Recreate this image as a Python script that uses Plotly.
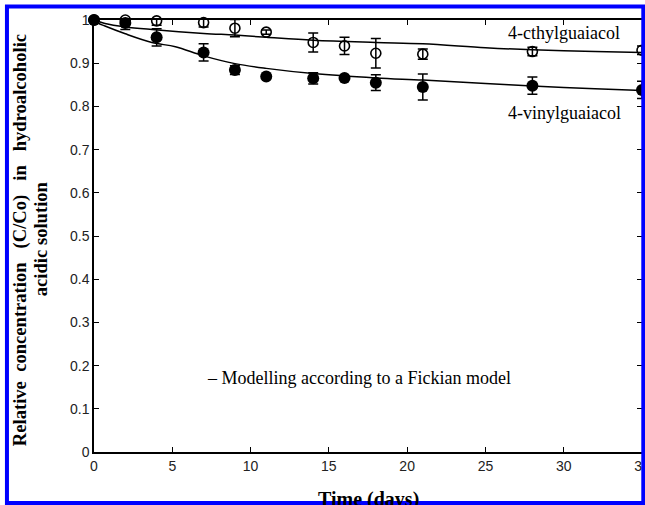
import plotly.graph_objects as go

# ---- data ----
days = [0, 2, 4, 7, 9, 11, 14, 16, 18, 21, 28, 35]
vinyl = [1.0, 0.993, 0.960, 0.925, 0.884, 0.869, 0.865, 0.866, 0.855, 0.845, 0.848, 0.838]
vinyl_err = [0, 0.015, 0.02, 0.02, 0.01, 0, 0.013, 0, 0.018, 0.03, 0.02, 0.02]
ethyl = [1.0, 1.0, 0.998, 0.994, 0.981, 0.972, 0.948, 0.940, 0.923, 0.921, 0.927, 0.930]
ethyl_err = [0, 0.005, 0.01, 0.01, 0.02, 0.005, 0.022, 0.02, 0.034, 0.012, 0.01, 0.01]

vinyl_model_x = [0, 0.25, 0.7, 2, 3.7, 5.2, 7, 9, 11, 14, 18, 21, 25, 28, 32, 35]
vinyl_model_y = [1.0, 0.993, 0.986, 0.968, 0.948, 0.938, 0.917, 0.899, 0.888, 0.876, 0.866, 0.861, 0.853, 0.847, 0.841, 0.837]
ethyl_model_x = [0, 0.7, 2, 3.7, 7, 9, 11, 14, 18, 21, 25, 28, 32, 35]
ethyl_model_y = [1.0, 0.992, 0.984, 0.978, 0.969, 0.965, 0.960, 0.953, 0.948, 0.945, 0.936, 0.931, 0.927, 0.925]

x_ticks = [0, 5, 10, 15, 20, 25, 30, 35]
x_tick_labels = ["0", "5", "10", "15", "20", "25", "30", "35"]
y_ticks = [0, 0.1, 0.2, 0.3, 0.4, 0.5, 0.6, 0.7, 0.8, 0.9, 1.0]
y_tick_labels = ["0", "0.1", "0.2", "0.3", "0.4", "0.5", "0.6", "0.7", "0.8", "0.9", "1"]

serif = "Liberation Serif, Times New Roman, serif"
sans = "Liberation Sans, Arial, sans-serif"

fig = go.Figure()

fig.add_trace(go.Scatter(x=ethyl_model_x, y=ethyl_model_y, mode="lines",
                         line=dict(color="black", width=1.5, shape="spline"),
                         hoverinfo="skip", cliponaxis=False))
fig.add_trace(go.Scatter(x=vinyl_model_x, y=vinyl_model_y, mode="lines",
                         line=dict(color="black", width=1.5, shape="spline"),
                         hoverinfo="skip", cliponaxis=False))

fig.add_trace(go.Scatter(
    x=days, y=ethyl, mode="markers", cliponaxis=False,
    marker=dict(symbol="circle-open", size=10, color="black", line=dict(width=1.6, color="black")),
    error_y=dict(type="data", array=ethyl_err, visible=True, color="black", thickness=1.5, width=5),
))
fig.add_trace(go.Scatter(
    x=days, y=vinyl, mode="markers", cliponaxis=False,
    marker=dict(symbol="circle", size=12, color="black"),
    error_y=dict(type="data", array=vinyl_err, visible=True, color="black", thickness=1.5, width=5),
))

W, H = 645, 505
L, R, T, B = 94, 3.3, 19.5, 53
pw = W - L - R
ph = H - T - B

def px(xp):
    return (xp - L) / pw

def py(yp):
    return (H - B - yp) / ph

fig.update_layout(
    width=W, height=H, autosize=False,
    margin=dict(l=L, r=R, t=T, b=B, pad=0, autoexpand=False),
    paper_bgcolor="white", plot_bgcolor="white",
    showlegend=False,
    xaxis=dict(range=[0, 35], tickvals=x_ticks, ticktext=x_tick_labels,
               ticks="inside", ticklen=5, tickwidth=1.2, tickcolor="black",
               showline=True, linecolor="black", linewidth=1.8, mirror="ticks",
               showgrid=False, zeroline=False, ticklabeloverflow="allow", automargin=False,
               tickfont=dict(family=sans, size=14, color="#222")),
    yaxis=dict(range=[0, 1], tickvals=y_ticks, ticktext=y_tick_labels,
               ticks="inside", ticklen=5, tickwidth=1.2, tickcolor="black",
               showline=True, linecolor="black", linewidth=1.5, mirror="ticks",
               showgrid=False, zeroline=False, ticklabeloverflow="allow", automargin=False,
               tickfont=dict(family=sans, size=14, color="#222")),
    annotations=[
        dict(text="4-cthylguaiacol", x=26.3, y=0.971, xref="x", yref="y",
             xanchor="left", yanchor="middle", showarrow=False,
             font=dict(family=serif, size=18, color="black")),
        dict(text="4-vinylguaiacol", x=26.3, y=0.784, xref="x", yref="y",
             xanchor="left", yanchor="middle", showarrow=False,
             font=dict(family=serif, size=18, color="black")),
        dict(text="– Modelling according to a Fickian model", x=16.9, y=0.171, xref="x", yref="y",
             xanchor="center", yanchor="middle", showarrow=False,
             font=dict(family=serif, size=18, color="black")),
        dict(text="<b>Relative&nbsp; concentration&nbsp;&nbsp; (C/Co)&nbsp;&nbsp; in&nbsp;&nbsp; hydroalcoholic</b>",
             x=px(20), y=py(240), xref="paper", yref="paper", textangle=-90,
             xanchor="center", yanchor="middle", showarrow=False,
             font=dict(family=serif, size=18.6, color="black")),
        dict(text="<b>acidic solution</b>",
             x=px(40), y=py(238), xref="paper", yref="paper", textangle=-90,
             xanchor="center", yanchor="middle", showarrow=False,
             font=dict(family=serif, size=18.6, color="black")),
        dict(text="<b>Time (days)</b>", x=px(368), y=py(500), xref="paper", yref="paper",
             xanchor="center", yanchor="middle", showarrow=False,
             font=dict(family=serif, size=20, color="black")),
    ],
    shapes=[
        dict(type="rect", xref="paper", yref="paper",
             x0=px(7), x1=px(643), y0=py(503), y1=py(6),
             line=dict(color="#0000ff", width=4), fillcolor="rgba(0,0,0,0)", layer="above"),
    ],
)

fig.write_html(
    "out.html",
    config={"displayModeBar": False, "responsive": False},
    post_script="document.body.style.margin='0';document.body.style.overflow='hidden';",
)
